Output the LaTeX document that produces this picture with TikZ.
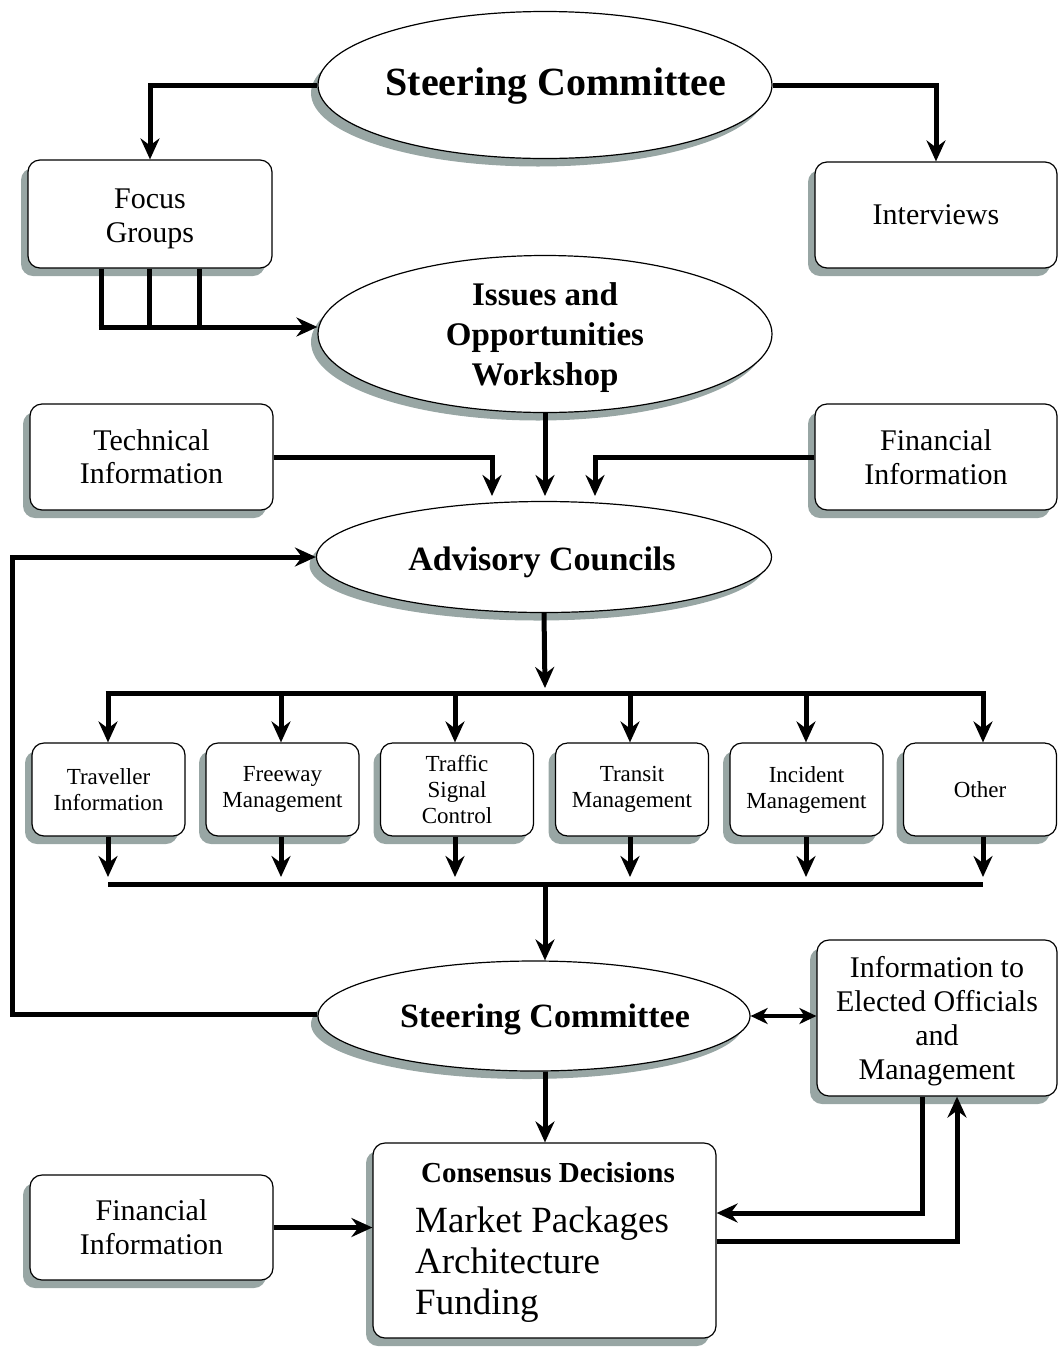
\documentclass[tikz,border=0pt]{standalone}
\usepackage{fontspec}
\setmainfont{Liberation Serif}
\usetikzlibrary{shapes.geometric,shadows,arrows.meta}
\definecolor{shadowc}{RGB}{152,166,164}
\newcommand{\fsz}[2]{\fontsize{#1}{#2}\selectfont}
\tikzset{
  shad/.style={drop shadow={shadow xshift=-7pt, shadow yshift=-8pt, fill=shadowc, opacity=1}},
  ell/.style={ellipse, draw, line width=1.2pt, fill=white, inner sep=0pt, shad},
  etext/.style={inner sep=0pt, align=center},
  rbox/.style={rectangle, rounded corners=12pt, draw, line width=1.2pt, fill=white, inner sep=0pt, align=center, shad},
  sbox/.style={rbox, minimum width=153pt, minimum height=93pt, font=\fsz{23}{26}},
  conn/.style={line width=5pt, line join=miter, -{Stealth[length=21pt,width=19pt,inset=7pt]}},
  dconn/.style={line width=4pt, {Stealth[length=17pt,width=16pt,inset=5pt]}-{Stealth[length=17pt,width=16pt,inset=5pt]}},
  wire/.style={line width=5pt, line join=miter},
}
\begin{document}
\begin{tikzpicture}[x=1pt,y=-1pt]
\useasboundingbox (0,0) rectangle (1062,1353);

% ellipses
\node[ell, minimum width=454pt, minimum height=147pt] (sc1) at (545,85) {};
\node[etext, font=\bfseries\fsz{40}{46}] (sc1t) at (556,86) {Steering Committee};
\node[ell, minimum width=454pt, minimum height=157pt] (iow) at (545,334) {};
\node[etext, font=\bfseries\fsz{33}{40}] (iowt) at (545,338) {Issues and\\Opportunities\\Workshop};
\node[ell, minimum width=455pt, minimum height=111pt] (ac) at (544,557) {};
\node[etext, font=\bfseries\fsz{34}{40}] (act) at (542,562) {Advisory Councils};
\node[ell, minimum width=432pt, minimum height=110pt] (sc2) at (534,1016) {};
\node[etext, font=\bfseries\fsz{34}{40}] (sc2t) at (545,1019) {Steering Committee};

% boxes
\node[rbox, minimum width=244pt, minimum height=108pt, font=\fsz{30}{34}] (fg) at (150,214) {\rule{0pt}{30pt}Focus\\Groups};
\node[rbox, minimum width=242pt, minimum height=106pt, font=\fsz{30}{34}] (iv) at (936,215) {Interviews};
\node[rbox, minimum width=243pt, minimum height=106pt, font=\fsz{30}{33}] (ti) at (151.5,457) {Technical\\Information};
\node[rbox, minimum width=242pt, minimum height=106pt, font=\fsz{30}{34}] (fi) at (936,457) {Financial\\Information};

\node[sbox] (tr) at (108.5,789.5) {Traveller\\Information};
\node[sbox] (fw) at (282.5,789.5) {Freeway\\Management};
\node[sbox] (ts) at (457,789.5) {Traffic\\Signal\\Control};
\node[sbox] (tm) at (632,789.5) {Transit\\Management};
\node[sbox] (im) at (806.5,789.5) {Incident\\Management};
\node[sbox] (ot) at (980,789.5) {Other};

\node[rbox, minimum width=240pt, minimum height=156pt, font=\fsz{30}{34}] (ie) at (937,1018) {\rule{0pt}{28pt}Information to\\Elected Officials\\and\\Management};
\node[rbox, minimum width=343pt, minimum height=195pt] (cd) at (544.5,1240.5) {};
\node[font=\bfseries\fsz{29}{34}] (cdt) at (548,1173) {Consensus Decisions};
\node[anchor=west, align=left, font=\fsz{37}{41}, inner sep=0pt] (cdl) at (415,1265) {Market Packages\\Architecture\\Funding};
\node[rbox, minimum width=243pt, minimum height=105pt, font=\fsz{30}{34}] (fb) at (151.5,1227.5) {Financial\\Information};

% top connectors
\draw[conn] (sc1.west) -| (fg.north);
\draw[conn] (sc1.east) -| (iv.north);

% focus groups to workshop
\coordinate (fj1) at (101,327);
\coordinate (fj2) at (149,327);
\coordinate (fj3) at (199,327);
\draw[wire] (fg.south -| fj1) -- (fj1);
\draw[wire] (fg.south -| fj2) -- (fj2);
\draw[wire] (fg.south -| fj3) -- (fj3);
\draw[conn] ([xshift=-2.5pt]fj1) -- (iow.west |- fj1);

% into advisory councils
\coordinate (acL) at (492,496);
\coordinate (acM) at (545,496);
\coordinate (acR) at (595,496);
\draw[conn] (ti.east) -| (acL);
\draw[conn] (iow.south) -- (acM);
\draw[conn] (fi.west) -| (acR);

% feedback loop
\coordinate (fbk) at (12,1014);
\draw[conn] (sc2.west |- fbk) -- (fbk) |- (ac.west);

% advisory to bus
\coordinate (bus1) at (545,688);
\draw[conn] (ac.south) -- (bus1);
\coordinate (btL) at (105.5,693);
\coordinate (btR) at (985.5,693);
\draw[wire] (btL) -- (btR);
\coordinate (bbL) at (108,884);
\coordinate (bbR) at (983,884);
\coordinate (bbM) at (545,884);
\draw[wire] (bbL) -- (bbR);
\foreach \n/\x in {tr/108, fw/281, ts/455, tm/630, im/806, ot/983} {
  \coordinate (bt\n) at (\x,693);
  \coordinate (bb\n) at (\x,877);
  \draw[conn] (bt\n) -- (bt\n |- \n.north);
  \draw[conn] (\n.south -| bt\n) -- (bb\n);
}
\draw[conn] (bbM) -- (bbM |- sc2.north);

% steering to info / consensus
\draw[dconn] (sc2.east) -- (ie.west |- sc2.east);
\draw[conn] (sc2.south -| bbM) -- (bbM |- cd.north);
\draw[conn] (fb.east) -- (cd.west |- fb.east);

\coordinate (ia) at (922,1213);
\coordinate (ib) at (957,1241);
\draw[conn] (ie.south -| ia) |- (cd.east |- ia);
\draw[conn] (cd.east |- ib) -| (ie.south -| ib);
\end{tikzpicture}
\end{document}
